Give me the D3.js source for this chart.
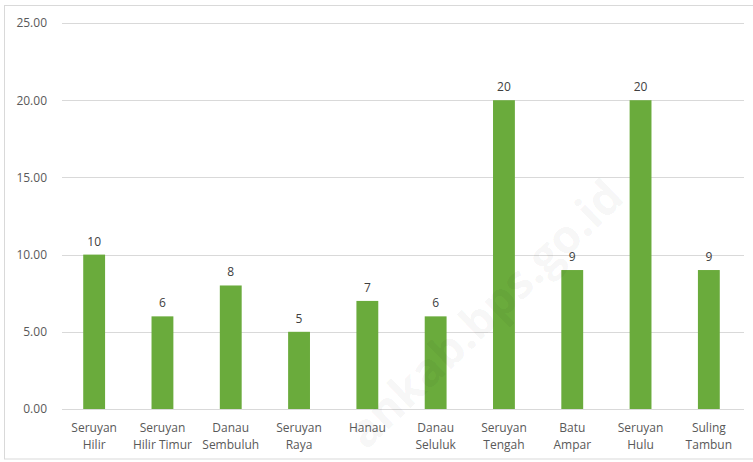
<!DOCTYPE html>
<html>
<head>
<meta charset="utf-8">
<script src="https://cdn.jsdelivr.net/npm/d3@7"></script>
<style>
  html, body { margin: 0; padding: 0; background: #fff; }
  svg { display: block; }
</style>
</head>
<body>
<script>
const categories = [
  ["Seruyan", "Hilir"],
  ["Seruyan", "Hilir Timur"],
  ["Danau", "Sembuluh"],
  ["Seruyan", "Raya"],
  ["Hanau"],
  ["Danau", "Seluluk"],
  ["Seruyan", "Tengah"],
  ["Batu", "Ampar"],
  ["Seruyan", "Hulu"],
  ["Suling", "Tambun"]
];
const values = [10, 6, 8, 5, 7, 6, 20, 9, 20, 9];
const yTicks = [0, 5, 10, 15, 20, 25];

const W = 753, H = 462;
const svg = d3.select("body").append("svg").attr("width", W).attr("height", H);
const font = "'Open Sans', 'Noto Sans', sans-serif";

// frame
svg.append("rect").attr("x", 4.5).attr("y", 5.5).attr("width", 760).attr("height", 453.5)
  .attr("fill", "#fff").attr("stroke", "#d9d9d9").attr("stroke-width", 1);

const x = d3.scaleBand().domain(d3.range(categories.length)).range([60, 743]).paddingInner(0.68).paddingOuter(0.34);
const y = d3.scaleLinear().domain([0, 25]).range([409, 23]);

// gridlines
svg.append("g").selectAll("line").data(yTicks).join("line")
  .attr("x1", 62).attr("x2", 744)
  .attr("y1", d => Math.round(y(d)) + 0.5).attr("y2", d => Math.round(y(d)) + 0.5)
  .attr("stroke", "#d9d9d9").attr("stroke-width", 1);

// y axis labels
const yAxis = d3.axisLeft(y).tickValues(yTicks).tickFormat(d3.format(".2f")).tickSize(0).tickPadding(0);
const ga = svg.append("g").attr("transform", "translate(47,0)").call(yAxis);
ga.select(".domain").remove();
ga.selectAll("text").attr("font-family", font).attr("font-size", 12).attr("fill", "#595959");

// bars
svg.append("g").selectAll("rect").data(values).join("rect")
  .attr("x", (d, i) => x(i)).attr("width", x.bandwidth())
  .attr("y", d => y(d)).attr("height", d => y(0) - y(d))
  .attr("fill", "#6aab3c");

// value labels
svg.append("g").selectAll("text").data(values).join("text")
  .attr("x", (d, i) => x(i) + x.bandwidth() / 2)
  .attr("y", d => y(d) - 9)
  .attr("text-anchor", "middle")
  .attr("font-family", font).attr("font-size", 12).attr("fill", "#404040")
  .text(d => d);

// category labels
const cg = svg.append("g").selectAll("text").data(categories).join("text")
  .attr("text-anchor", "middle")
  .attr("font-family", font).attr("font-size", 12).attr("fill", "#595959");
cg.each(function(d, i) {
  const t = d3.select(this);
  d.forEach((line, j) => {
    t.append("tspan").attr("x", x(i) + x.bandwidth() / 2).attr("y", 432 + j * 17).text(line);
  });
});

// watermark (visible part)
svg.append("text")
  .attr("transform", "translate(626,200) rotate(-44)")
  .attr("text-anchor", "end")
  .attr("font-family", font).attr("font-weight", "bold").attr("font-size", 46)
  .attr("fill", "#000").attr("fill-opacity", 0.05)
  .text("ankab.bps.go.id");
</script>
</body>
</html>
